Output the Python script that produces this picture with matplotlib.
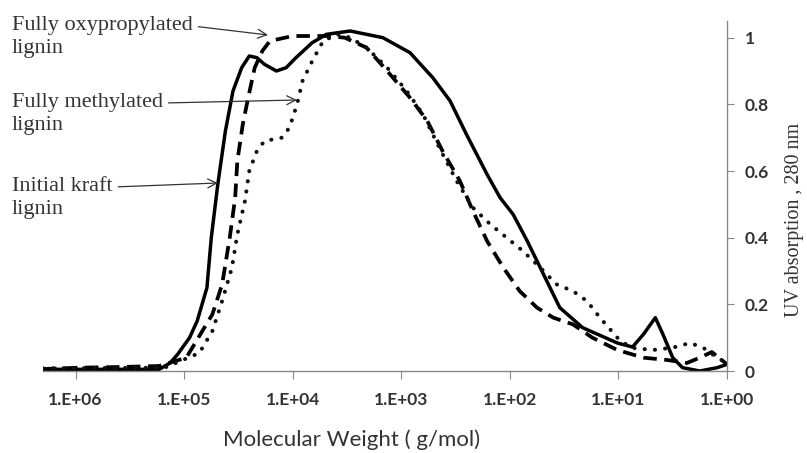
import matplotlib
matplotlib.use('Agg')
import matplotlib.pyplot as plt
import numpy as np

# log10 of molecular weight and UV absorption
kraft_logm = [6.30, 5.78, 5.23, 5.13, 5.06, 4.95, 4.88, 4.79, 4.75, 4.69, 4.62, 4.55,
              4.47, 4.40, 4.33, 4.26, 4.15, 4.06, 3.97, 3.82, 3.69, 3.47, 3.17, 2.92,
              2.71, 2.55, 2.40, 2.21, 2.09, 1.97, 1.84, 1.72, 1.54, 1.33, 1.01, 0.87,
              0.77, 0.66, 0.59, 0.50, 0.41, 0.25, 0.09, 0.0]
kraft_uv = [0.005, 0.005, 0.005, 0.024, 0.05, 0.10, 0.15, 0.25, 0.40, 0.56, 0.72, 0.84,
            0.91, 0.945, 0.94, 0.92, 0.90, 0.91, 0.94, 0.985, 1.01, 1.02, 1.00, 0.955,
            0.88, 0.81, 0.71, 0.59, 0.52, 0.47, 0.39, 0.31, 0.19, 0.13, 0.084, 0.072,
            0.11, 0.16, 0.11, 0.04, 0.01, 0.0, 0.01, 0.02]

oxy_logm = [6.30, 5.96, 5.59, 5.23, 4.98, 4.74, 4.65, 4.58, 4.53, 4.51, 4.46, 4.41,
            4.35, 4.28, 4.21, 4.00, 3.69, 3.52, 3.32, 3.13, 2.92, 2.76, 2.62, 2.46,
            2.34, 2.21, 2.06, 1.91, 1.75, 1.60, 1.42, 1.24, 1.01, 0.77, 0.55, 0.37,
            0.25, 0.14, 0.0]
oxy_uv = [0.006, 0.01, 0.012, 0.015, 0.04, 0.17, 0.26, 0.40, 0.52, 0.63, 0.74, 0.82,
          0.91, 0.96, 0.99, 1.005, 1.005, 1.0, 0.97, 0.90, 0.82, 0.75, 0.66, 0.57,
          0.48, 0.39, 0.31, 0.24, 0.19, 0.16, 0.14, 0.10, 0.063, 0.04, 0.033, 0.024,
          0.04, 0.057, 0.02]

meth_logm = [6.30, 5.18, 4.86, 4.74, 4.65, 4.56, 4.51, 4.44, 4.40, 4.33, 4.26, 4.10,
             4.03, 3.96, 3.91, 3.82, 3.72, 3.59, 3.47, 3.32, 3.13, 2.95, 2.80, 2.65,
             2.49, 2.34, 2.18, 2.03, 1.88, 1.72, 1.57, 1.42, 1.29, 1.17, 1.01, 0.89,
             0.68, 0.50, 0.34, 0.22, 0.09, 0.0]
meth_uv = [0.008, 0.01, 0.054, 0.12, 0.21, 0.31, 0.41, 0.51, 0.60, 0.66, 0.69, 0.70,
           0.73, 0.80, 0.87, 0.93, 0.99, 1.01, 1.0, 0.97, 0.91, 0.84, 0.77, 0.67,
           0.57, 0.49, 0.44, 0.40, 0.36, 0.31, 0.26, 0.24, 0.21, 0.16, 0.10, 0.07,
           0.063, 0.07, 0.084, 0.07, 0.04, 0.024]

xtick_values = [1e6, 1e5, 1e4, 1e3, 1e2, 1e1, 1e0]
xtick_labels = ['1.E+06', '1.E+05', '1.E+04', '1.E+03', '1.E+02', '1.E+01', '1.E+00']
ytick_values = [0, 0.2, 0.4, 0.6, 0.8, 1]
ytick_labels = ['0', '0.2', '0.4', '0.6', '0.8', '1']

W, H = 807, 453

fig = plt.figure(figsize=(W / 100, H / 100), dpi=100)
ax = fig.add_axes([43 / W, 1 - 371 / H, (727 - 43) / W, 350 / H])

ax.plot(10 ** np.array(kraft_logm), kraft_uv, color='black', lw=2.5,
        solid_joinstyle='round')
ax.plot(10 ** np.array(oxy_logm), oxy_uv, color='black', lw=2.7,
        linestyle=(0, (3.6, 2.0)))
ax.plot(10 ** np.array(meth_logm), meth_uv, color='#111111', lw=2.9,
        linestyle=(0, (0.05, 2.5)), dash_capstyle='round')

ax.set_xscale('log')
ax.set_xlim(10 ** 6.30, 1)
ax.set_ylim(0, 1.05)
ax.minorticks_off()
ax.set_xticks(xtick_values)
ax.set_xticklabels(xtick_labels)
ax.set_yticks(ytick_values)
ax.set_yticklabels(ytick_labels)

ax.yaxis.tick_right()
for s in ['top', 'left']:
    ax.spines[s].set_visible(False)
for s in ['bottom', 'right']:
    ax.spines[s].set_color('#888888')
    ax.spines[s].set_linewidth(1.0)

ax.tick_params(axis='x', direction='out', length=6, color='#888888', pad=9,
               labelsize=12.5, labelcolor='#333333')
ax.tick_params(axis='y', direction='out', length=5, color='#888888', pad=8,
               labelsize=12.5, labelcolor='#333333')
for lab in ax.get_xticklabels() + ax.get_yticklabels():
    lab.set_fontfamily('Lato')
    lab.set_fontweight('bold')

fig.text(795 / W, 1 - 220 / H, 'UV absorption , 280 nm', fontfamily='Liberation Serif',
         fontsize=14.5, color='#333333', rotation=90, ha='center', va='center')
fig.text(352 / W, 1 - 440 / H, 'Molecular Weight ( g/mol)', fontfamily='Lato',
         fontsize=16, color='#333333', ha='center', va='center')

# annotations pointing at each curve
def label(text, xy_pix, xytext_pix):
    ax.annotate(text, xy=(xy_pix[0] / W, 1 - xy_pix[1] / H),
                xycoords='figure fraction',
                xytext=(xytext_pix[0] / W, 1 - xytext_pix[1] / H),
                textcoords='figure fraction',
                fontfamily='Liberation Serif', fontsize=16, color='#333333',
                ha='left', va='center', linespacing=1.3,
                arrowprops=dict(arrowstyle='->', color='#333333', lw=0.9,
                                shrinkA=2, shrinkB=0, relpos=(1.0, 0.76)))

label('Fully oxypropylated\nlignin', (268, 35), (12, 37))
label('Fully methylated\nlignin', (297, 100), (12, 114))
label('Initial kraft\nlignin', (218, 183), (12, 198))

plt.savefig('out.png', dpi=100)
